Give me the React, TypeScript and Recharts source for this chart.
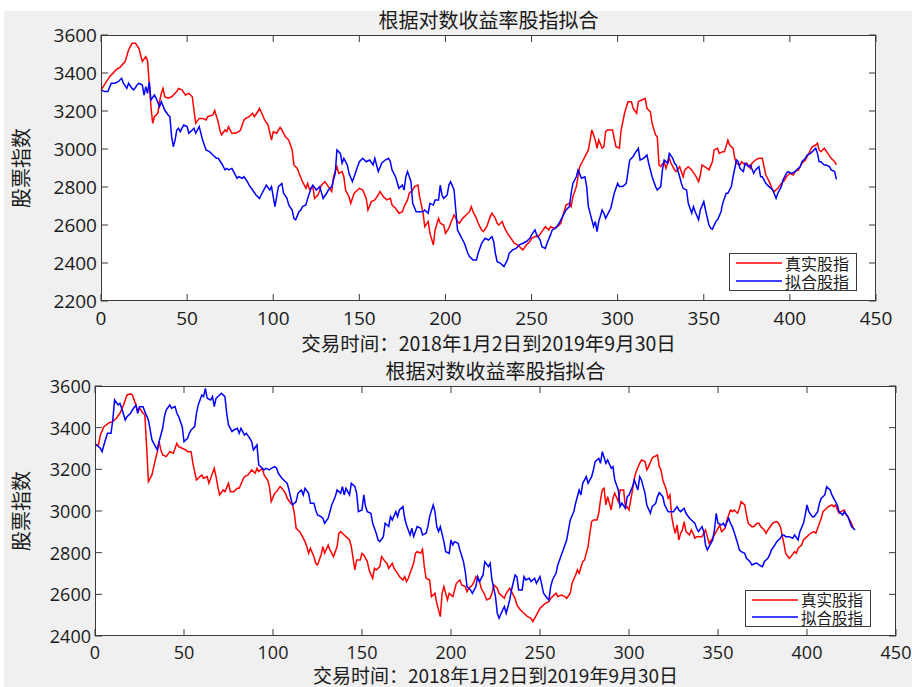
import React from 'react';
import { LineChart, Line, XAxis, YAxis, CartesianGrid } from 'recharts';

// [trading day, index value]
const topReal: [number, number][] = [
  [0, 3310], [5, 3381], [9, 3419], [11, 3430], [14, 3460], [16, 3521], [18, 3556], [20, 3556], [22, 3530], [23, 3495],
  [24, 3460], [26, 3486], [27, 3468], [28, 3346], [29, 3223], [30, 3135], [31, 3170], [33, 3188], [34, 3249], [35, 3293],
  [36, 3319], [37, 3275], [39, 3267], [41, 3275], [42, 3284], [44, 3302], [45, 3319], [47, 3311], [49, 3284], [51, 3293],
  [53, 3275], [54, 3205], [55, 3135], [57, 3161], [59, 3161], [61, 3153], [62, 3170], [65, 3179], [66, 3202], [68, 3144],
  [69, 3100], [70, 3074], [72, 3100], [73, 3091], [74, 3118], [76, 3083], [78, 3083], [80, 3091], [81, 3100], [83, 3153],
  [84, 3161], [86, 3170], [88, 3188], [89, 3170], [91, 3196], [92, 3214], [93, 3196], [95, 3153], [97, 3126], [99, 3047],
  [100, 3091], [102, 3083], [104, 3114], [105, 3100], [107, 3065], [109, 3047], [111, 2995], [112, 2916], [114, 2898], [115, 2872],
  [117, 2828], [119, 2793], [120, 2819], [121, 2788], [123, 2802], [124, 2740], [126, 2758], [128, 2810], [130, 2828], [132, 2802],
  [134, 2776], [135, 2854], [137, 2907], [138, 2872], [140, 2881], [141, 2854], [142, 2784], [144, 2749], [145, 2714], [147, 2767],
  [149, 2784], [150, 2793], [152, 2784], [154, 2740], [155, 2679], [157, 2723], [159, 2732], [161, 2758], [162, 2776], [164, 2749],
  [166, 2732], [168, 2740], [169, 2705], [171, 2688], [173, 2662], [175, 2670], [176, 2697], [178, 2732], [179, 2767], [181, 2784],
  [182, 2802], [184, 2810], [185, 2749], [187, 2662], [188, 2591], [190, 2618], [191, 2556], [193, 2495], [194, 2574], [196, 2635],
  [197, 2609], [199, 2600], [200, 2556], [202, 2583], [203, 2609], [205, 2653], [207, 2618], [208, 2609], [210, 2635], [212, 2653],
  [214, 2670], [215, 2697], [216, 2670], [218, 2635], [219, 2609], [221, 2574], [222, 2565], [224, 2591], [226, 2644], [227, 2662],
  [229, 2635], [230, 2609], [231, 2600], [233, 2618], [234, 2591], [236, 2556], [238, 2530], [240, 2504], [242, 2495], [244, 2477],
  [245, 2469], [247, 2495], [249, 2513], [250, 2530], [252, 2539], [254, 2539], [256, 2565], [258, 2591], [260, 2574], [261, 2591],
  [263, 2583], [265, 2591], [267, 2609], [268, 2644], [270, 2705], [272, 2714], [273, 2697], [274, 2749], [276, 2802], [277, 2854],
  [278, 2907], [280, 2942], [281, 2960], [283, 2995], [284, 3047], [285, 3100], [287, 3047], [288, 3004], [289, 3047], [291, 3004],
  [292, 3012], [293, 3091], [294, 3100], [296, 3100], [297, 3100], [299, 3012], [301, 3004], [302, 3100], [304, 3188], [306, 3249],
  [308, 3249], [309, 3214], [311, 3188], [312, 3249], [314, 3258], [316, 3267], [317, 3214], [319, 3196], [320, 3135], [322, 3074],
  [323, 3065], [324, 2916], [325, 2907], [327, 2933], [328, 2898], [330, 2951], [331, 2925], [333, 2890], [334, 2881], [336, 2907],
  [338, 2854], [339, 2890], [341, 2907], [343, 2890], [345, 2863], [347, 2828], [348, 2863], [349, 2916], [352, 2898], [353, 2890],
  [355, 2933], [356, 2995], [358, 3004], [359, 2977], [361, 2986], [362, 2986], [364, 3047], [365, 3021], [367, 3004], [368, 2951],
  [369, 2925], [371, 2916], [372, 2933], [374, 2916], [375, 2925], [377, 2898], [378, 2925], [380, 2942], [382, 2951], [384, 2951],
  [385, 2907], [386, 2863], [388, 2828], [390, 2784], [391, 2776], [393, 2793], [395, 2819], [397, 2837], [398, 2854], [400, 2872],
  [402, 2863], [403, 2881], [405, 2890], [407, 2925], [409, 2942], [411, 2977], [413, 3012], [415, 3021], [416, 3030], [417, 2995],
  [418, 2986], [420, 3004], [422, 2977], [424, 2951], [426, 2933], [427, 2916],
];

const topFit: [number, number][] = [
  [0, 3311], [2, 3302], [4, 3302], [6, 3346], [8, 3346], [10, 3354], [11, 3363], [12, 3372], [13, 3346], [15, 3319],
  [16, 3346], [18, 3319], [19, 3311], [21, 3337], [22, 3346], [24, 3337], [25, 3284], [26, 3328], [27, 3293], [28, 3354],
  [29, 3258], [31, 3284], [32, 3267], [34, 3223], [35, 3249], [37, 3205], [39, 3179], [40, 3170], [41, 3065], [42, 3012],
  [43, 3047], [44, 3100], [45, 3109], [46, 3091], [48, 3126], [50, 3118], [51, 3083], [53, 3100], [54, 3109], [55, 3083],
  [57, 3118], [58, 3083], [59, 3047], [61, 2995], [63, 2986], [65, 2968], [67, 2951], [68, 2951], [70, 2925], [72, 2890],
  [73, 2898], [74, 2890], [76, 2898], [77, 2881], [79, 2846], [80, 2854], [82, 2846], [83, 2854], [85, 2828], [86, 2810],
  [88, 2784], [90, 2758], [92, 2740], [93, 2758], [95, 2793], [96, 2810], [98, 2784], [99, 2802], [100, 2749], [101, 2697],
  [102, 2749], [103, 2802], [105, 2819], [106, 2767], [108, 2740], [109, 2705], [111, 2679], [112, 2635], [113, 2627], [115, 2670],
  [116, 2679], [117, 2697], [119, 2705], [120, 2740], [122, 2793], [123, 2810], [125, 2784], [127, 2802], [129, 2740], [131, 2767],
  [132, 2784], [134, 2802], [136, 2872], [137, 2995], [139, 2977], [140, 2925], [141, 2951], [143, 2916], [144, 2872], [146, 2828],
  [148, 2881], [150, 2933], [152, 2951], [154, 2933], [156, 2942], [158, 2916], [159, 2951], [161, 2881], [163, 2925], [165, 2942],
  [167, 2951], [168, 2933], [169, 2890], [171, 2854], [173, 2793], [175, 2810], [176, 2784], [177, 2854], [178, 2881], [180, 2828],
  [181, 2714], [183, 2670], [185, 2670], [187, 2670], [188, 2679], [190, 2662], [191, 2714], [193, 2705], [194, 2732], [196, 2732],
  [197, 2810], [198, 2758], [199, 2740], [201, 2758], [202, 2810], [203, 2828], [205, 2784], [206, 2679], [207, 2574], [209, 2539],
  [211, 2504], [213, 2451], [214, 2434], [216, 2416], [218, 2416], [219, 2451], [221, 2504], [223, 2530], [225, 2521], [227, 2539],
  [228, 2513], [229, 2451], [230, 2407], [232, 2398], [234, 2381], [236, 2416], [237, 2451], [239, 2469], [241, 2477], [243, 2495],
  [245, 2504], [247, 2513], [249, 2530], [250, 2548], [252, 2574], [253, 2548], [255, 2521], [256, 2486], [258, 2477], [259, 2504],
  [261, 2548], [262, 2574], [264, 2583], [266, 2609], [268, 2644], [270, 2679], [272, 2697], [273, 2767], [274, 2819], [276, 2854],
  [277, 2890], [279, 2846], [281, 2854], [282, 2802], [283, 2697], [285, 2627], [286, 2591], [287, 2618], [288, 2565], [289, 2618],
  [291, 2679], [292, 2662], [293, 2635], [295, 2670], [296, 2688], [298, 2767], [300, 2819], [301, 2802], [303, 2802], [305, 2819],
  [306, 2881], [307, 2942], [309, 2960], [310, 2977], [312, 3004], [313, 2942], [315, 2951], [317, 2968], [318, 2925], [320, 2854],
  [322, 2802], [323, 2784], [325, 2802], [326, 2890], [327, 2942], [329, 2925], [330, 2977], [332, 2951], [333, 2925], [334, 2916],
  [336, 2854], [337, 2819], [338, 2793], [340, 2784], [341, 2714], [343, 2662], [344, 2697], [345, 2670], [347, 2627], [348, 2679],
  [350, 2723], [351, 2679], [353, 2600], [354, 2583], [355, 2578], [357, 2618], [358, 2627], [360, 2670], [361, 2714], [363, 2767],
  [364, 2767], [366, 2802], [367, 2854], [369, 2942], [370, 2933], [371, 2898], [373, 2881], [374, 2925], [376, 2907], [377, 2916],
  [379, 2872], [380, 2890], [382, 2907], [383, 2854], [384, 2854], [386, 2819], [387, 2810], [389, 2793], [390, 2784], [392, 2740],
  [393, 2767], [395, 2802], [396, 2837], [398, 2872], [399, 2881], [401, 2872], [403, 2881], [404, 2890], [406, 2907], [407, 2933],
  [409, 2951], [410, 2968], [412, 2977], [414, 2995], [415, 3004], [416, 2977], [417, 2933], [418, 2933], [420, 2916], [421, 2916],
  [423, 2907], [424, 2890], [426, 2881], [427, 2840],
];

const bottomReal: [number, number][] = [
  [0, 3320], [2, 3317], [3, 3365], [5, 3405], [8, 3424], [10, 3429], [12, 3445], [14, 3469], [16, 3509], [18, 3557],
  [20, 3562], [21, 3557], [23, 3509], [24, 3477], [25, 3493], [27, 3469], [28, 3461], [29, 3309], [30, 3141], [32, 3173],
  [33, 3213], [35, 3285], [36, 3333], [37, 3293], [38, 3269], [40, 3261], [42, 3285], [44, 3277], [45, 3301], [46, 3325],
  [47, 3309], [49, 3301], [51, 3293], [52, 3285], [54, 3285], [55, 3229], [57, 3149], [58, 3157], [60, 3173], [61, 3157],
  [63, 3165], [64, 3133], [66, 3181], [67, 3205], [68, 3165], [69, 3117], [70, 3077], [72, 3101], [73, 3093], [75, 3133],
  [76, 3093], [78, 3093], [80, 3109], [81, 3109], [83, 3149], [84, 3165], [86, 3173], [88, 3197], [90, 3181], [91, 3205],
  [92, 3189], [94, 3205], [95, 3173], [97, 3149], [98, 3117], [99, 3045], [101, 3085], [102, 3093], [104, 3117], [105, 3109],
  [107, 3085], [108, 3061], [110, 3037], [111, 3029], [112, 2989], [113, 2917], [115, 2901], [116, 2885], [118, 2853], [119, 2829],
  [120, 2797], [121, 2821], [123, 2781], [124, 2749], [125, 2741], [127, 2789], [128, 2829], [129, 2797], [131, 2837], [132, 2813],
  [134, 2781], [136, 2829], [137, 2893], [138, 2901], [140, 2885], [141, 2877], [143, 2861], [144, 2829], [145, 2773], [146, 2717],
  [147, 2765], [149, 2765], [150, 2797], [151, 2789], [153, 2757], [154, 2717], [156, 2677], [157, 2725], [158, 2717], [160, 2733],
  [161, 2781], [163, 2757], [164, 2749], [165, 2725], [167, 2749], [168, 2725], [170, 2701], [171, 2685], [173, 2669], [174, 2685],
  [175, 2661], [176, 2677], [178, 2725], [179, 2749], [180, 2797], [181, 2805], [183, 2797], [184, 2816], [185, 2733], [186, 2677],
  [188, 2669], [189, 2589], [191, 2605], [192, 2557], [194, 2493], [195, 2605], [196, 2637], [198, 2573], [199, 2605], [201, 2589],
  [202, 2621], [203, 2653], [205, 2669], [206, 2645], [208, 2637], [209, 2613], [210, 2629], [212, 2645], [213, 2661], [214, 2685],
  [216, 2661], [217, 2629], [219, 2597], [220, 2573], [222, 2581], [223, 2605], [224, 2645], [226, 2629], [227, 2605], [229, 2589],
  [230, 2581], [231, 2605], [233, 2629], [234, 2613], [236, 2581], [237, 2549], [239, 2525], [241, 2509], [243, 2493], [245, 2485],
  [246, 2469], [247, 2485], [249, 2517], [250, 2533], [251, 2541], [253, 2557], [255, 2565], [256, 2581], [257, 2589], [259, 2605],
  [260, 2589], [262, 2597], [264, 2589], [265, 2581], [267, 2605], [268, 2653], [270, 2693], [271, 2717], [272, 2701], [274, 2757],
  [275, 2765], [277, 2829], [278, 2893], [279, 2949], [280, 2957], [282, 2957], [283, 2989], [284, 3053], [285, 3101], [286, 3109],
  [287, 3029], [288, 3069], [290, 3005], [291, 3061], [292, 3085], [294, 3045], [295, 3101], [297, 3101], [298, 3013], [299, 3021],
  [300, 3005], [302, 3101], [303, 3157], [304, 3189], [306, 3229], [307, 3245], [309, 3237], [310, 3197], [311, 3213], [313, 3253],
  [314, 3261], [315, 3264], [316, 3269], [317, 3213], [318, 3197], [319, 3149], [321, 3101], [322, 3061], [323, 3077], [324, 2973],
  [325, 2925], [326, 2893], [327, 2933], [328, 2861], [329, 2893], [330, 2909], [331, 2949], [332, 2901], [334, 2885], [335, 2909],
  [336, 2893], [337, 2869], [338, 2877], [340, 2877], [341, 2877], [343, 2909], [344, 2877], [345, 2845], [347, 2869], [348, 2885],
  [350, 2917], [351, 2933], [352, 2901], [354, 2917], [355, 2957], [357, 3005], [358, 2997], [359, 3005], [361, 2989], [362, 3013],
  [363, 3045], [365, 3029], [366, 2981], [367, 2941], [369, 2925], [370, 2925], [372, 2941], [373, 2941], [374, 2925], [376, 2909],
  [377, 2893], [378, 2909], [380, 2933], [381, 2944], [383, 2949], [384, 2941], [385, 2925], [386, 2885], [387, 2845], [388, 2797],
  [390, 2773], [391, 2781], [393, 2805], [394, 2797], [395, 2821], [397, 2837], [398, 2861], [400, 2877], [401, 2885], [402, 2893],
  [404, 2901], [405, 2893], [406, 2917], [408, 2965], [409, 2997], [411, 3013], [412, 3021], [414, 3029], [415, 3021], [416, 3029],
  [418, 2989], [419, 2997], [421, 3005], [422, 2981], [423, 2973], [425, 2941], [426, 2917],
];

const bottomFit: [number, number][] = [
  [0, 3320], [2, 3309], [3, 3301], [4, 3285], [5, 3317], [7, 3373], [9, 3373], [10, 3437], [11, 3533], [13, 3509],
  [14, 3517], [15, 3493], [17, 3437], [18, 3453], [20, 3469], [21, 3485], [23, 3509], [24, 3469], [25, 3501], [27, 3501],
  [28, 3477], [30, 3437], [31, 3389], [32, 3341], [34, 3309], [35, 3293], [36, 3333], [38, 3397], [39, 3453], [40, 3485],
  [42, 3509], [43, 3493], [45, 3501], [46, 3469], [47, 3453], [49, 3405], [50, 3333], [52, 3349], [53, 3373], [54, 3389],
  [56, 3405], [57, 3469], [58, 3509], [60, 3557], [61, 3549], [62, 3589], [63, 3541], [65, 3533], [66, 3549], [67, 3501],
  [68, 3541], [70, 3557], [71, 3565], [73, 3549], [74, 3469], [75, 3413], [77, 3381], [78, 3389], [80, 3397], [81, 3373],
  [82, 3397], [84, 3365], [85, 3373], [87, 3349], [88, 3333], [89, 3293], [91, 3317], [92, 3221], [94, 3205], [95, 3197],
  [96, 3205], [98, 3197], [99, 3205], [101, 3213], [102, 3205], [103, 3181], [105, 3157], [106, 3149], [108, 3133], [109, 3101],
  [110, 3061], [111, 3029], [113, 3045], [114, 3085], [116, 3101], [117, 3077], [118, 3109], [120, 3085], [121, 3037], [123, 3037],
  [124, 3005], [125, 2981], [127, 2973], [128, 2965], [129, 2941], [131, 2965], [132, 2997], [133, 3029], [135, 3069], [136, 3101],
  [138, 3085], [139, 3117], [140, 3077], [141, 3109], [143, 3077], [144, 3133], [146, 3117], [147, 3085], [148, 2997], [150, 3005],
  [151, 3077], [152, 3021], [153, 2997], [155, 2989], [156, 2941], [158, 2893], [159, 2861], [160, 2853], [162, 2877], [163, 2941],
  [165, 2925], [166, 2973], [167, 2957], [169, 2997], [170, 2973], [171, 3005], [173, 3021], [174, 2965], [175, 2933], [177, 2885],
  [178, 2917], [179, 2877], [181, 2925], [183, 2917], [184, 2885], [186, 2893], [187, 2925], [188, 2973], [190, 3029], [191, 2997],
  [192, 2925], [193, 2901], [194, 2925], [196, 2853], [197, 2805], [199, 2797], [200, 2861], [201, 2837], [202, 2853], [204, 2845],
  [205, 2813], [207, 2757], [208, 2709], [209, 2637], [211, 2621], [212, 2605], [214, 2637], [215, 2685], [216, 2661], [218, 2693],
  [219, 2757], [221, 2733], [222, 2749], [223, 2669], [225, 2589], [226, 2509], [227, 2485], [229, 2525], [230, 2541], [231, 2509],
  [233, 2573], [234, 2621], [236, 2693], [237, 2685], [238, 2621], [240, 2621], [241, 2685], [242, 2669], [244, 2677], [245, 2661],
  [247, 2677], [248, 2653], [250, 2685], [251, 2645], [252, 2605], [254, 2581], [255, 2573], [256, 2637], [257, 2669], [259, 2701],
  [260, 2741], [262, 2789], [263, 2813], [265, 2861], [266, 2909], [267, 2957], [269, 2997], [270, 3037], [272, 3101], [273, 3077],
  [274, 3133], [276, 3165], [277, 3133], [279, 3165], [280, 3197], [281, 3237], [283, 3253], [284, 3229], [285, 3285], [287, 3229],
  [288, 3245], [290, 3205], [291, 3213], [292, 3149], [294, 3101], [295, 3021], [296, 3037], [298, 3013], [299, 3069], [300, 3077],
  [302, 3117], [303, 3149], [305, 3101], [306, 3165], [307, 3149], [309, 3085], [310, 3029], [312, 2989], [313, 3021], [315, 3037],
  [316, 3069], [317, 3088], [319, 3069], [320, 3029], [322, 2997], [323, 2997], [325, 2997], [327, 3021], [328, 3005], [329, 2997],
  [331, 3013], [332, 2989], [334, 2965], [335, 2957], [337, 2941], [338, 2917], [339, 2901], [341, 2925], [342, 2901], [343, 2837],
  [344, 2813], [345, 2829], [347, 2861], [348, 2909], [349, 2989], [350, 2941], [352, 2933], [353, 2941], [354, 2925], [356, 2965],
  [357, 2941], [358, 2925], [359, 2901], [361, 2845], [362, 2813], [363, 2805], [365, 2797], [366, 2773], [368, 2757], [369, 2741],
  [371, 2749], [372, 2749], [373, 2741], [375, 2733], [376, 2757], [378, 2773], [379, 2789], [380, 2813], [382, 2837], [383, 2853],
  [385, 2869], [386, 2885], [387, 2885], [388, 2877], [390, 2877], [392, 2869], [393, 2885], [395, 2861], [396, 2901], [398, 2941],
  [399, 2981], [400, 3029], [401, 2997], [403, 2973], [404, 2973], [406, 2997], [407, 3037], [408, 3061], [410, 3077], [411, 3117],
  [413, 3101], [414, 3077], [415, 3061], [417, 3029], [418, 2997], [420, 2981], [421, 2997], [423, 2973], [424, 2949], [425, 2925],
  [427, 2909],
];

const xTicks = [0, 50, 100, 150, 200, 250, 300, 350, 400, 450];
const topYTicks = [2200, 2400, 2600, 2800, 3000, 3200, 3400, 3600];
const bottomYTicks = [2400, 2600, 2800, 3000, 3200, 3400, 3600];

const titleText = '根据对数收益率股指拟合';
const xLabelText = '交易时间：2018年1月2日到2019年9月30日';
const yLabelText = '股票指数';
const seriesNames = ['真实股指', '拟合股指'];
const seriesColors = ['#ff0000', '#0000ff'];

const frameColor = '#3a3a3a';
const cjkFont = '"Noto Sans CJK SC", "Noto Sans", sans-serif';
const numFont = '"Open Sans", "DejaVu Sans", sans-serif';

const toPoints = (arr: [number, number][]) => arr.map(([day, value]) => ({ day, value }));

type Frame = { left: number; right: number; top: number; bottom: number };

const Y_AXIS_W = 60;
const X_AXIS_H = 30;

function Panel({ offsetTop, height, frame, real, fit, yTicks, legend, xLabelY, xLabelFont, tickFont, tickGap }: {
  offsetTop: number;
  height: number;
  frame: Frame;
  real: [number, number][];
  fit: [number, number][];
  yTicks: number[];
  legend: { left: number; top: number; width: number; height: number; font: number; row: number };
  xLabelY: number;
  xLabelFont: number;
  tickFont: number;
  tickGap: number;
}) {
  const cx = (frame.left + frame.right) / 2;
  const cy = (frame.top + frame.bottom) / 2;
  const textStyle: React.CSSProperties = {
    position: 'absolute', transform: 'translate(-50%, -50%)', whiteSpace: 'nowrap',
    fontFamily: cjkFont, color: '#1a1a1a', lineHeight: 1,
  };
  return (
    <div style={{ position: 'absolute', left: 0, top: offsetTop, width: 912, height }}>
      <LineChart
        width={912}
        height={height}
        margin={{
          top: frame.top,
          right: 912 - frame.right,
          bottom: height - frame.bottom - X_AXIS_H,
          left: frame.left - Y_AXIS_W,
        }}
      >
        <CartesianGrid fill="#ffffff" horizontal={false} vertical={false} />
        <XAxis
          dataKey="day"
          type="number"
          domain={[0, 450]}
          ticks={xTicks}
          height={X_AXIS_H}
          axisLine={false}
          tickLine={false}
          interval={0}
          tick={(p: any) => (
            <g key={`xt-${p.payload.value}`}>
              <line x1={p.x} x2={p.x} y1={frame.bottom} y2={frame.bottom - 7} stroke={frameColor} />
              <line x1={p.x} x2={p.x} y1={frame.top} y2={frame.top + 7} stroke={frameColor} />
              <text x={p.x} y={frame.bottom + tickGap} textAnchor="middle" dominantBaseline="central"
                fontSize={tickFont} fontFamily={numFont} fill="#1a1a1a">{p.payload.value}</text>
            </g>
          )}
        />
        <YAxis
          type="number"
          domain={[yTicks[0], yTicks[yTicks.length - 1]]}
          ticks={yTicks}
          width={Y_AXIS_W}
          axisLine={false}
          tickLine={false}
          interval={0}
          tick={(p: any) => (
            <g key={`yt-${p.payload.value}`}>
              <line x1={frame.left} x2={frame.left + 7} y1={p.y} y2={p.y} stroke={frameColor} />
              <line x1={frame.right} x2={frame.right - 7} y1={p.y} y2={p.y} stroke={frameColor} />
              <text x={frame.left - 4} y={p.y} textAnchor="end" dominantBaseline="central"
                fontSize={tickFont} fontFamily={numFont} fill="#1a1a1a">{p.payload.value}</text>
            </g>
          )}
        />
        <Line data={toPoints(real)} dataKey="value" stroke={seriesColors[0]} strokeWidth={1.5} dot={false}
          type="linear" isAnimationActive={false} />
        <Line data={toPoints(fit)} dataKey="value" stroke={seriesColors[1]} strokeWidth={1.5} dot={false}
          type="linear" isAnimationActive={false} />
      </LineChart>
      {/* axes box */}
      <div style={{
        position: 'absolute', left: frame.left, top: frame.top, width: frame.right - frame.left,
        height: frame.bottom - frame.top, border: `1px solid ${frameColor}`, boxSizing: 'border-box',
        pointerEvents: 'none',
      }} />
      <div style={{ ...textStyle, left: cx, top: frame.top - 15, fontSize: 20 }}>{titleText}</div>
      <div style={{ ...textStyle, left: cx, top: xLabelY, fontSize: xLabelFont }}>{xLabelText}</div>
      <div style={{ ...textStyle, left: 21, top: cy, fontSize: 20, transform: 'translate(-50%, -50%) rotate(-90deg)' }}>
        {yLabelText}
      </div>
      <div style={{
        position: 'absolute', left: legend.left, top: legend.top, width: legend.width, height: legend.height,
        background: '#ffffff', border: `1px solid ${frameColor}`, boxSizing: 'border-box',
      }}>
        {seriesNames.map((name, i) => (
          <div key={name} style={{
            position: 'absolute', left: 6, top: legend.height / 2 - legend.row + i * legend.row - 1, height: legend.row,
            display: 'flex', alignItems: 'center',
          }}>
            <svg width={46} height={4} style={{ marginRight: 3, display: 'block' }}>
              <line x1={0} x2={46} y1={2} y2={2} stroke={seriesColors[i]} strokeWidth={1.5} />
            </svg>
            <span style={{ fontFamily: cjkFont, fontSize: legend.font, lineHeight: 1, color: '#1a1a1a' }}>{name}</span>
          </div>
        ))}
      </div>
    </div>
  );
}

export default function App() {
  return (
    <div style={{ position: 'absolute', left: 0, top: 0, width: 912, height: 687, background: '#ffffff', overflow: 'hidden' }}>
      <div style={{ position: 'absolute', left: 4, top: 11, width: 908, height: 676, background: '#f0f0f0' }} />
      <Panel
        offsetTop={0}
        height={360}
        frame={{ left: 101, right: 876, top: 35, bottom: 301 }}
        real={topReal}
        fit={topFit}
        yTicks={topYTicks}
        legend={{ left: 729, top: 253, width: 128, height: 38, font: 16, row: 18 }}
        xLabelY={343}
        xLabelFont={19.5}
        tickFont={19}
        tickGap={17}
      />
      <Panel
        offsetTop={340}
        height={347}
        frame={{ left: 95, right: 896, top: 46, bottom: 296 }}
        real={bottomReal}
        fit={bottomFit}
        yTicks={bottomYTicks}
        legend={{ left: 745, top: 250, width: 126, height: 37, font: 15.5, row: 17.5 }}
        xLabelY={333.5}
        xLabelFont={19}
        tickFont={18}
        tickGap={16}
      />
    </div>
  );
}
